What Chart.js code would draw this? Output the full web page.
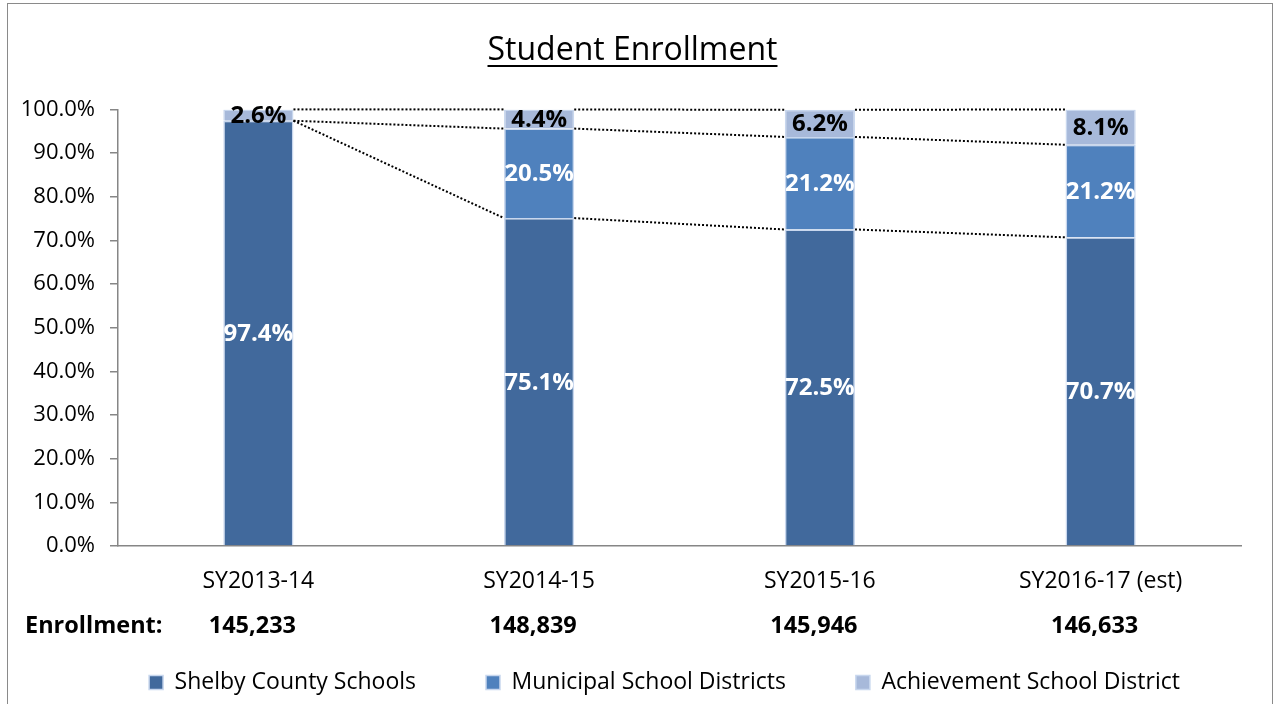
<!DOCTYPE html>
<html>
<head>
<meta charset="utf-8">
<script src="https://cdn.jsdelivr.net/npm/chart.js@4/dist/chart.umd.min.js"></script>
<style>
  html, body { margin: 0; padding: 0; background: #fff; overflow: hidden; }
  #wrap { position: absolute; left: 0; top: 0; width: 1278px; height: 704px; }
  #frame { position: absolute; left: 7px; top: 3px; width: 1264px; height: 800px; border: 1.5px solid #8a8a8a; pointer-events: none; }
</style>
</head>
<body>
<div id="wrap"><canvas id="chart-canvas"></canvas></div>
<div id="frame"></div>
<script>
const years = ['SY2013-14', 'SY2014-15', 'SY2015-16', 'SY2016-17 (est)']
const enrollment = ['145,233', '148,839', '145,946', '146,633']
const shelbyCounty = [97.4, 75.1, 72.5, 70.7]
const municipal = [0, 20.5, 21.2, 21.2]
const achievement = [2.6, 4.4, 6.2, 8.1]

const FONT = "'Open Sans', 'Noto Sans', sans-serif"
const EDGE = '#c8d7ee'

// dotted connectors between the stacked segments (Excel "series lines")
const seriesLines = {
  id: 'seriesLines',
  afterDatasetsDraw (chart) {
    const ctx = chart.ctx
    ctx.save()
    ctx.strokeStyle = '#000'
    ctx.lineWidth = 2
    ctx.setLineDash([2, 2])
    chart.data.datasets.forEach((ds, d) => {
      const bars = chart.getDatasetMeta(d).data
      for (let i = 0; i < bars.length - 1; i++) {
        const a = bars[i]
        const b = bars[i + 1]
        ctx.beginPath()
        ctx.moveTo(a.x + a.width / 2, a.y)
        ctx.lineTo(b.x - b.width / 2, b.y)
        ctx.stroke()
      }
    })
    ctx.restore()
  }
}

// value labels centred in each segment
const segmentLabels = {
  id: 'segmentLabels',
  afterDatasetsDraw (chart) {
    const ctx = chart.ctx
    ctx.save()
    ctx.font = 'bold 24px ' + FONT
    ctx.textAlign = 'center'
    ctx.textBaseline = 'middle'
    chart.data.datasets.forEach((ds, d) => {
      chart.getDatasetMeta(d).data.forEach((bar, i) => {
        const v = ds.data[i]
        if (!v) return
        ctx.fillStyle = d === 2 ? '#000' : '#fff'
        ctx.fillText(v.toFixed(1) + '%', bar.x, (bar.y + bar.base) / 2 + 1)
      })
    })
    ctx.restore()
  }
}

// enrollment row under the category labels + title underline
const extras = {
  id: 'extras',
  afterLayout (chart) {
    // nudge title and legend sideways to sit where the original has them
    chart.titleBlock.left += 12
    chart.titleBlock.right += 12
    chart.legend.left += 44
    chart.legend.right += 44
  },
  afterDraw (chart) {
    const ctx = chart.ctx
    const x = chart.scales.x
    ctx.save()
    ctx.fillStyle = '#000'
    ctx.textBaseline = 'middle'
    ctx.font = 'bold 23.5px ' + FONT
    ctx.textAlign = 'left'
    ctx.fillText('Enrollment:', 25, 626)
    ctx.textAlign = 'center'
    enrollment.forEach((e, i) => {
      ctx.fillText(e, x.getPixelForValue(i) - 6, 626)
    })

    const t = chart.titleBlock
    ctx.font = '32px ' + FONT
    const w = ctx.measureText(t.options.text).width
    const cx = (t.left + t.right) / 2
    ctx.fillRect(cx - w / 2, 65, w, 2)
    ctx.restore()
  }
}

const ctx = document.getElementById('chart-canvas')
new Chart(ctx, {
  type: 'bar',
  data: {
    labels: years,
    datasets: [
      { label: 'Shelby County Schools', data: shelbyCounty, backgroundColor: '#41699c', borderColor: EDGE, borderWidth: 1.5 },
      { label: 'Municipal School Districts', data: municipal, backgroundColor: '#4f81bd', borderColor: EDGE, borderWidth: 1.5 },
      { label: 'Achievement School District', data: achievement, backgroundColor: '#a7b9da', borderColor: EDGE, borderWidth: 1.5 }
    ]
  },
  options: {
    animation: false,
    responsive: true,
    maintainAspectRatio: false,
    layout: { padding: { left: 0, right: 37, top: 0, bottom: 0 } },
    datasets: {
      bar: { barPercentage: 1, categoryPercentage: 0.25 }
    },
    scales: {
      x: {
        stacked: true,
        grid: { display: false, drawTicks: false },
        border: { display: true, color: '#868686', width: 1.5 },
        ticks: { color: '#000', font: { family: FONT, size: 23 }, padding: 22 },
        afterFit (scale) { scale.height = 55 }
      },
      y: {
        stacked: true,
        min: 0,
        max: 100,
        grid: { drawOnChartArea: false, drawTicks: true, tickLength: 8, color: '#868686', lineWidth: 1.5 },
        border: { display: true, color: '#868686', width: 1.5 },
        ticks: {
          stepSize: 10,
          color: '#000',
          padding: 15,
          font: { family: FONT, size: 22 },
          callback: (v) => v.toFixed(1) + '%'
        },
        afterFit (scale) { scale.width = 118 }
      }
    },
    plugins: {
      title: {
        display: true,
        text: 'Student Enrollment',
        color: '#000',
        font: { family: FONT, size: 32, weight: 'normal' },
        padding: { top: 32, bottom: 39 }
      },
      legend: {
        position: 'bottom',
        maxHeight: 104,
        labels: {
          color: '#000',
          font: { family: FONT, size: 23 },
          boxWidth: 14,
          boxHeight: 14,
          padding: 70
        }
      },
      tooltip: { enabled: false }
    }
  },
  plugins: [seriesLines, segmentLabels, extras]
})
</script>
</body>
</html>
